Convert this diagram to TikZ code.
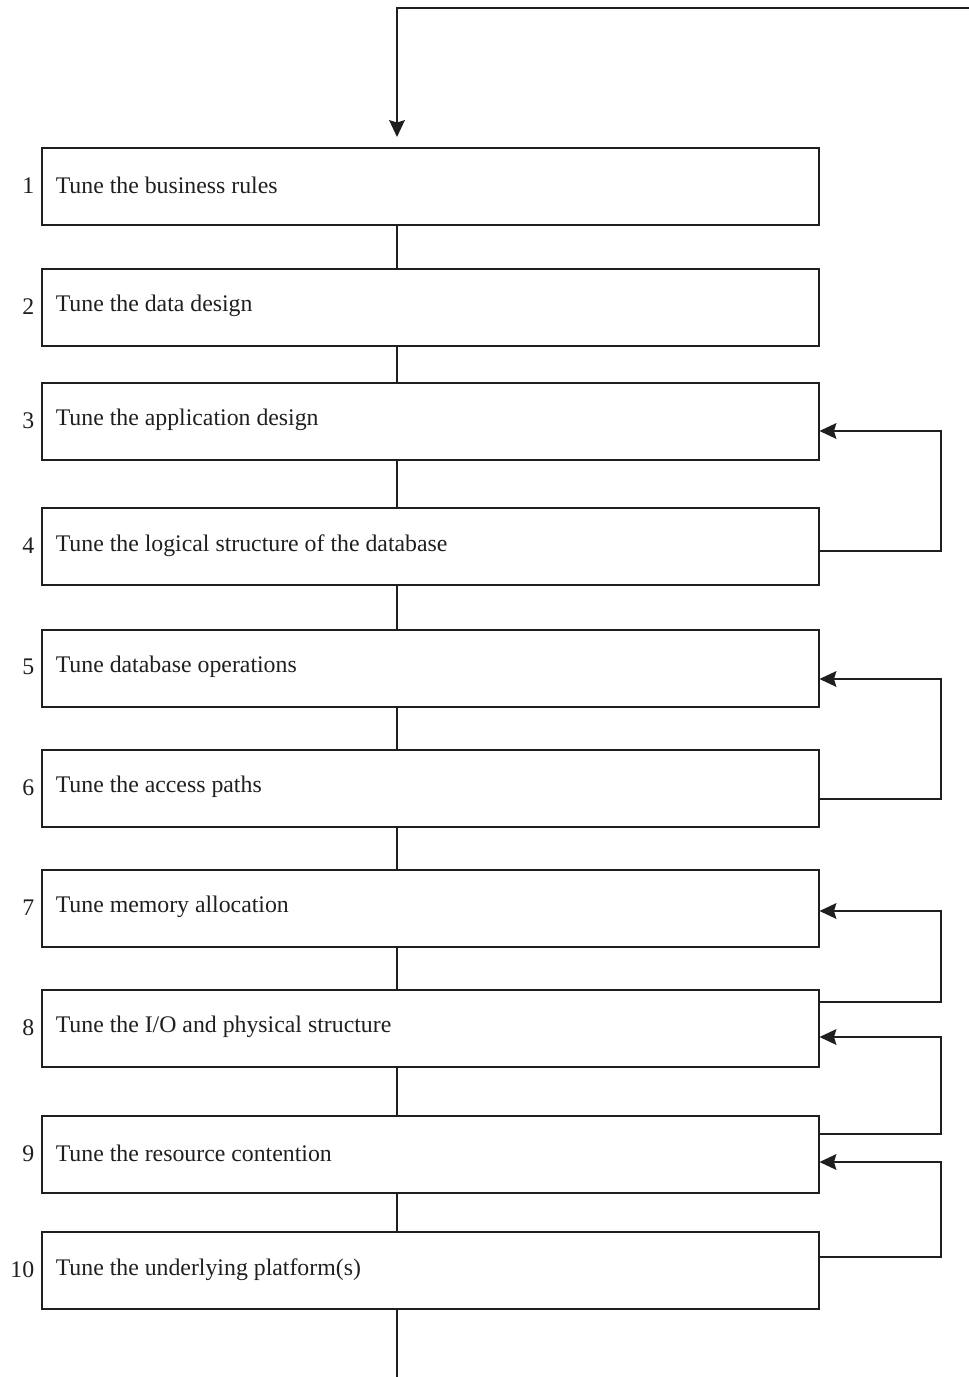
\documentclass[tikz,border=0pt]{standalone}
\usepackage{fontspec}
\setmainfont{Liberation Serif}
\usetikzlibrary{arrows.meta}
\begin{document}
\begin{tikzpicture}[x=1pt,y=-1pt,
  line width=1.5pt, color={black!88},
  stepbox/.style={draw, rectangle, anchor=north west, minimum width=777pt,
    minimum height=77pt},
  steptext/.style={anchor=west, inner sep=0pt, font=\fontsize{23.8}{28}\selectfont},
  numlab/.style={anchor=east, inner sep=0pt, font=\fontsize{23.8}{28}\selectfont},
  link/.style={draw},
  fb/.style={draw, -{Stealth[length=17pt,width=16pt,inset=2.5pt,line width=0pt]}},
]
\useasboundingbox (0,0) rectangle (969,1377);
% vertical spine of the flow
\coordinate (spine) at (397,0);
\coordinate (loopin) at (969,8);
\coordinate (outend) at (397,1377);

% the ten tuning steps
\foreach \n/\top/\txt in {
  1/147/{Tune the business rules},
  2/268/{Tune the data design},
  3/382/{Tune the application design},
  4/507/{Tune the logical structure of the database},
  5/629/{Tune database operations},
  6/749/{Tune the access paths},
  7/869/{Tune memory allocation},
  8/989/{Tune the I/O and physical structure},
  9/1115/{Tune the resource contention},
  10/1231/{Tune the underlying platform(s)}}
{
  \node[stepbox] (b\n) at (41,\top) {};
  \node[steptext] (t\n) at ([xshift=14pt,yshift=1pt]b\n.west) {\txt};
  \node[numlab] (n\n) at ([xshift=-6pt,yshift=1pt]b\n.west) {\n};
}

% straight links between consecutive steps
\foreach \a/\b in {1/2,2/3,3/4,4/5,5/6,6/7,7/8,8/9,9/10}
  \draw[link] (b\a.south -| spine) -- (b\b.north -| spine);

% entry loop from the top and exit at the bottom
\draw[fb] (loopin) -- (loopin -| spine) -- ([yshift=10pt]b1.north -| spine);
\draw[link] (b10.south -| spine) -- (outend);

% feedback loops on the right
\draw[fb] (b4.east |- 0,551)  -- (941,551)  |- (b3.east |- 0,431);
\draw[fb] (b6.east |- 0,799)  -- (941,799)  |- (b5.east |- 0,679);
\draw[fb] (b8.east |- 0,1002) -- (941,1002) |- (b7.east |- 0,911);
\draw[fb] (b9.east |- 0,1134) -- (941,1134) |- (b8.east |- 0,1037);
\draw[fb] (b10.east |- 0,1257) -- (941,1257) |- (b9.east |- 0,1162);
\end{tikzpicture}
\end{document}
